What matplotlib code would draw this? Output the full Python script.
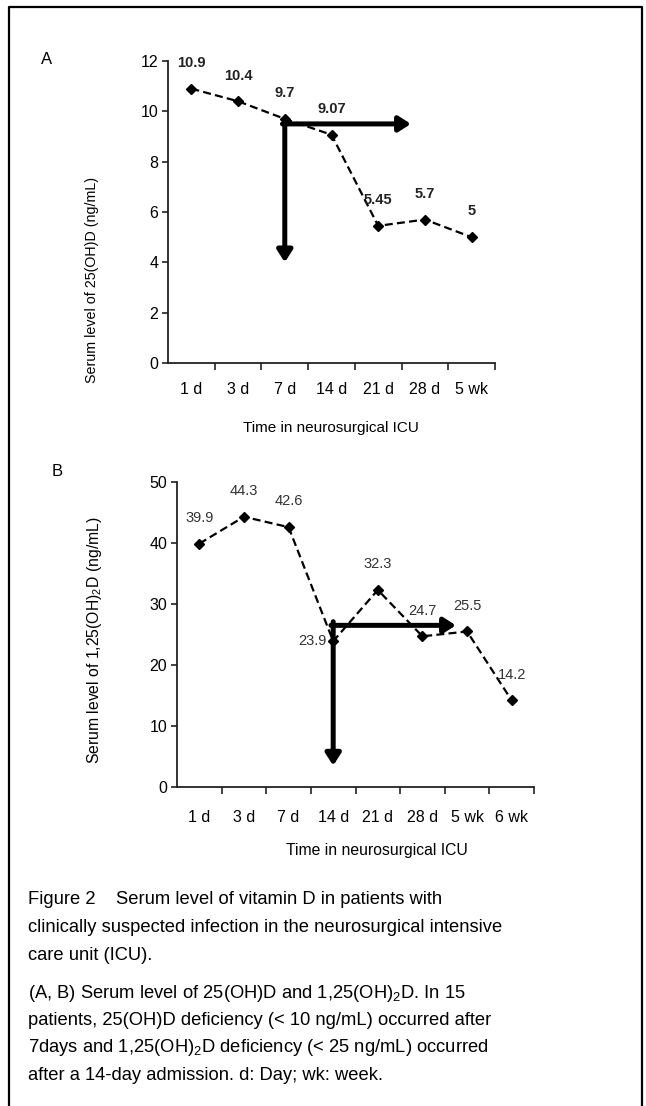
import matplotlib
matplotlib.use("Agg")
import matplotlib.pyplot as plt
from matplotlib.lines import Line2D

plt.rcParams['font.family'] = ['Liberation Sans', 'DejaVu Sans']
plt.rcParams['mathtext.fontset'] = 'custom'
plt.rcParams['mathtext.rm'] = 'Liberation Sans'
plt.rcParams['mathtext.it'] = 'Liberation Sans'

# panel A: 25(OH)D
labels_a = ['1 d', '3 d', '7 d', '14 d', '21 d', '28 d', '5 wk']
values_a = [10.9, 10.4, 9.7, 9.07, 5.45, 5.7, 5.0]
text_a = ['10.9', '10.4', '9.7', '9.07', '5.45', '5.7', '5']

# panel B: 1,25(OH)2D
labels_b = ['1 d', '3 d', '7 d', '14 d', '21 d', '28 d', '5 wk', '6 wk']
values_b = [39.9, 44.3, 42.6, 23.9, 32.3, 24.7, 25.5, 14.2]
text_b = ['39.9', '44.3', '42.6', '23.9', '32.3', '24.7', '25.5', '14.2']

# deficiency arrows: corner (x, y), horizontal end x, vertical end y
arrow_a = (2.0, 9.5, 4.7, 4.0)
arrow_b = (3.0, 26.5, 5.75, 3.5)

caption_1 = ["Figure 2    Serum level of vitamin D in patients with",
             "clinically suspected infection in the neurosurgical intensive",
             "care unit (ICU)."]
caption_2 = ["(A, B) Serum level of 25(OH)D and 1,25(OH)$_2$D. In 15",
             "patients, 25(OH)D deficiency (< 10 ng/mL) occurred after",
             "7days and 1,25(OH)$_2$D deficiency (< 25 ng/mL) occurred",
             "after a 14-day admission. d: Day; wk: week."]

W, H = 646, 1106
fig = plt.figure(figsize=(W / 100, H / 100), dpi=100)


def px(x, y):
    return x / W, 1 - y / H


def draw_panel(rect, labels, values, texts, ymax, ystep, arrow, val_font, tick_pad, label_offsets=None):
    ax = fig.add_axes(rect)
    n = len(labels)
    xs = list(range(n))
    ax.plot(xs, values, color='black', lw=1.6, ls=(0, (3.6, 1.9)),
            marker='D', ms=5.5, mfc='black', mec='black', zorder=3)
    for i, (x, v, t) in enumerate(zip(xs, values, texts)):
        dx, dy = (0, 18.5)
        if label_offsets and i in label_offsets:
            dx, dy = label_offsets[i]
        ax.annotate(t, (x, v), xytext=(dx, dy), textcoords='offset points',
                    ha='center', va='center', **val_font)
    cx, cy, hx, vy = arrow
    style = '-|>,head_length=0.5,head_width=0.32'
    ax.annotate('', xy=(hx, cy), xytext=(cx - 0.05, cy),
                arrowprops=dict(arrowstyle=style, lw=3.6, color='black',
                                mutation_scale=14, shrinkA=0, shrinkB=0), zorder=4)
    ax.annotate('', xy=(cx, vy), xytext=(cx, cy + ymax * 0.012),
                arrowprops=dict(arrowstyle=style, lw=3.6, color='black',
                                mutation_scale=14, shrinkA=0, shrinkB=0), zorder=4)
    ax.set_xlim(-0.5, n - 0.5)
    ax.set_ylim(0, ymax)
    ax.set_yticks(range(0, ymax + 1, ystep))
    ax.set_xticks(xs)
    ax.set_xticklabels(labels)
    ax.set_xticks([k + 0.5 for k in range(n)], minor=True)
    ax.tick_params(axis='x', which='major', length=0, pad=tick_pad, labelsize=11.5)
    ax.tick_params(axis='x', which='minor', length=5, width=1.2, direction='out', color='#222')
    ax.tick_params(axis='y', length=4, width=1.2, direction='out', pad=3, labelsize=11.5, color='#222')
    for s in ('top', 'right'):
        ax.spines[s].set_visible(False)
    for s in ('left', 'bottom'):
        ax.spines[s].set_linewidth(1.3)
        ax.spines[s].set_color('#222')
    return ax


bold_font = dict(fontsize=10.5, fontweight='bold', color='#222')
plain_font = dict(fontsize=10.5, color='#333')

l, b = px(168, 363)
draw_panel([l, b, 327 / W, 302 / H], labels_a, values_a, text_a, 12, 2, arrow_a,
           bold_font, 14)
l, b = px(177, 787)
draw_panel([l, b, 357 / W, 305 / H], labels_b, values_b, text_b, 50, 10, arrow_b,
           plain_font, 16.5, label_offsets={3: (-15, 0)})

fig.text(*px(92, 280), 'Serum level of 25(OH)D (ng/mL)', rotation=90,
         ha='center', va='center', fontsize=10.3)
fig.text(*px(95, 640), 'Serum level of 1,25(OH)$_2$D (ng/mL)', rotation=90,
         ha='center', va='center', fontsize=11.3)
fig.text(*px(331, 428), 'Time in neurosurgical ICU', ha='center', va='center', fontsize=11)
fig.text(*px(377, 850), 'Time in neurosurgical ICU', ha='center', va='center', fontsize=11.3)
fig.text(*px(47, 60), 'A', ha='center', va='center', fontsize=12)
fig.text(*px(57, 472), 'B', ha='center', va='center', fontsize=12)

for i, line in enumerate(caption_1):
    fig.text(*px(28, 900 + i * 27.5), line, ha='left', va='center', fontsize=13.2)
for i, line in enumerate(caption_2):
    fig.text(*px(28, 993 + i * 27.5), line, ha='left', va='center', fontsize=13.2)

# outer frame (open at the bottom)
fx = [9 / W, 9 / W, 642 / W, 642 / W]
fy = [0, 1 - 7 / H, 1 - 7 / H, 0]
fig.add_artist(Line2D(fx, fy, transform=fig.transFigure, color='black', lw=1.6))

fig.savefig('out.png', dpi=100)
